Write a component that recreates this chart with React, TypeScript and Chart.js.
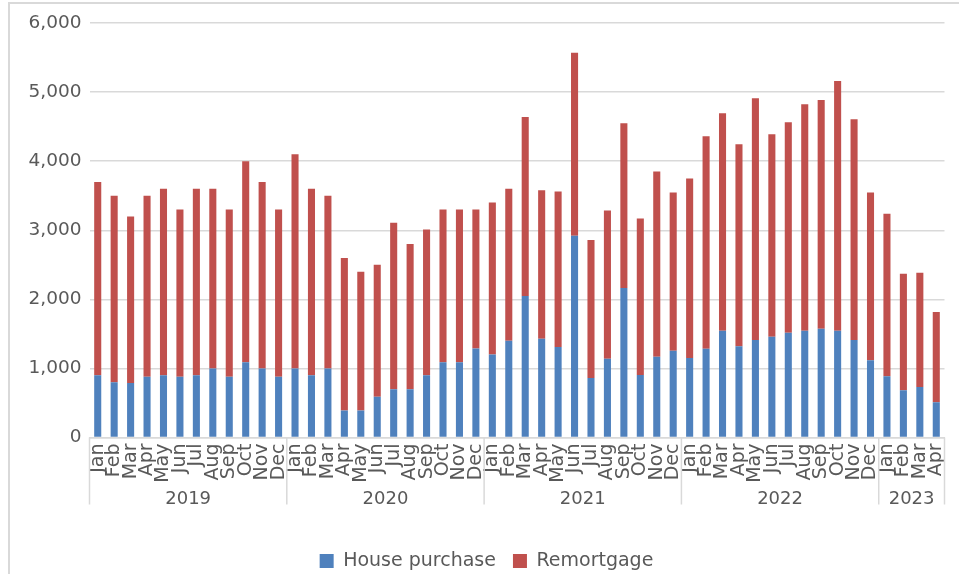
import React, { useEffect, useRef } from 'react';
import { Chart, registerables } from 'chart.js';

Chart.register(...registerables);

const categories = [
  'Jan', 'Feb', 'Mar', 'Apr', 'May', 'Jun', 'Jul', 'Aug', 'Sep', 'Oct', 'Nov', 'Dec',
  'Jan', 'Feb', 'Mar', 'Apr', 'May', 'Jun', 'Jul', 'Aug', 'Sep', 'Oct', 'Nov', 'Dec',
  'Jan', 'Feb', 'Mar', 'Apr', 'May', 'Jun', 'Jul', 'Aug', 'Sep', 'Oct', 'Nov', 'Dec',
  'Jan', 'Feb', 'Mar', 'Apr', 'May', 'Jun', 'Jul', 'Aug', 'Sep', 'Oct', 'Nov', 'Dec',
  'Jan', 'Feb', 'Mar', 'Apr',
];

const yearLabels = ['2019', '2020', '2021', '2022', '2023'];
const monthsPerYear = [12, 12, 12, 12, 4];

const housePurchase = [
  900, 800, 790, 880, 900, 880, 900, 1000, 880, 1090, 1000, 880,
  1000, 900, 1000, 390, 390, 590, 700, 700, 900, 1090, 1090, 1290,
  1200, 1400, 2050, 1430, 1310, 2920, 860, 1140, 2165, 905, 1170, 1255,
  1150, 1285, 1545, 1320, 1410, 1460, 1515, 1545, 1575, 1545, 1410, 1120,
  885, 685, 730, 510,
];

const remortgage = [
  2800, 2700, 2410, 2620, 2700, 2420, 2700, 2600, 2420, 2910, 2700, 2420,
  3100, 2700, 2500, 2210, 2010, 1910, 2410, 2100, 2110, 2210, 2210, 2010,
  2200, 2200, 2590, 2150, 2250, 2650, 2000, 2145, 2385, 2265, 2680, 2290,
  2600, 3075, 3150, 2925, 3500, 2930, 3050, 3280, 3310, 3615, 3195, 2425,
  2355, 1685, 1655, 1305,
];

const seriesNames = ['House purchase', 'Remortgage'];
const yMax = 6000;
const yStep = 1000;

const FONT = '"DejaVu Sans", sans-serif';
const TEXT = '#595959';
const LINE = '#d9d9d9';

const framePlugin = {
  id: 'frame',
  beforeDraw(chart: any) {
    const ctx = chart.ctx;
    ctx.save();
    ctx.strokeStyle = LINE;
    ctx.lineWidth = 2;
    ctx.beginPath();
    ctx.moveTo(9, 574);
    ctx.lineTo(9, 3);
    ctx.lineTo(959, 3);
    ctx.stroke();
    ctx.restore();
  },
};

const yearPlugin = {
  id: 'yearGroups',
  afterDraw(chart: any) {
    const xs = chart.scales.x;
    const ctx = chart.ctx;
    const top = xs.top;
    const half = (xs.getPixelForValue(1) - xs.getPixelForValue(0)) / 2;
    ctx.save();
    ctx.strokeStyle = LINE;
    ctx.lineWidth = 1.5;
    ctx.fillStyle = TEXT;
    ctx.font = '18px ' + FONT;
    ctx.textAlign = 'center';
    ctx.textBaseline = 'middle';
    let start = 0;
    yearLabels.forEach((yr, i) => {
      const count = monthsPerYear[i];
      const left = xs.getPixelForValue(start) - half;
      const right = xs.getPixelForValue(start + count - 1) + half;
      ctx.beginPath();
      if (i === 0) {
        ctx.moveTo(left, top);
        ctx.lineTo(left, top + 67);
      }
      ctx.moveTo(right, top);
      ctx.lineTo(right, top + 67);
      ctx.stroke();
      ctx.fillText(yr, (left + right) / 2, top + 61.5);
      start += count;
    });
    ctx.restore();
  },
};

export default function App() {
  const ref = useRef<HTMLCanvasElement | null>(null);

  useEffect(() => {
    if (!ref.current) return;
    const chart = new Chart(ref.current, {
      type: 'bar',
      data: {
        labels: categories,
        datasets: [
          {
            label: seriesNames[0],
            data: housePurchase,
            backgroundColor: '#4F81BD',
            barPercentage: 0.43,
            categoryPercentage: 1,
          },
          {
            label: seriesNames[1],
            data: remortgage,
            backgroundColor: '#C0504D',
            barPercentage: 0.43,
            categoryPercentage: 1,
          },
        ],
      },
      options: {
        animation: false,
        responsive: false,
        devicePixelRatio: 1,
        layout: { padding: { left: 28.5, right: 14.5, top: 23, bottom: -6.5 } },
        plugins: {
          legend: {
            position: 'bottom',
            labels: {
              color: TEXT,
              font: { family: FONT, size: 19 },
              boxWidth: 14,
              boxHeight: 14,
              padding: 17,
            },
          },
          tooltip: { enabled: false },
          title: { display: false },
        },
        scales: {
          x: {
            stacked: true,
            grid: { display: false, drawTicks: false },
            border: { display: true, color: LINE, width: 1.5 },
            ticks: {
              color: TEXT,
              font: { family: FONT, size: 19 },
              minRotation: 90,
              maxRotation: 90,
              autoSkip: false,
              padding: 6,
            },
            afterFit: (s: any) => {
              s.height = 97;
              s.paddingLeft = 0;
              s.paddingRight = 0;
            },
          },
          y: {
            stacked: true,
            min: 0,
            max: yMax,
            grid: { color: LINE, lineWidth: 1.5, drawTicks: false },
            border: { display: false },
            ticks: {
              stepSize: yStep,
              color: TEXT,
              font: { family: FONT, size: 18.5 },
              padding: 8,
              callback: (v: any) => Number(v).toLocaleString('en-US'),
            },
            afterFit: (s: any) => {
              s.width = 61;
            },
          },
        },
      },
      plugins: [framePlugin, yearPlugin],
    });
    return () => chart.destroy();
  }, []);

  return (
    <div style={{ position: 'absolute', left: 0, top: 0, width: 959, height: 574, background: '#fff' }}>
      <canvas ref={ref} width={959} height={574} style={{ width: 959, height: 574, display: 'block' }} />
    </div>
  );
}
